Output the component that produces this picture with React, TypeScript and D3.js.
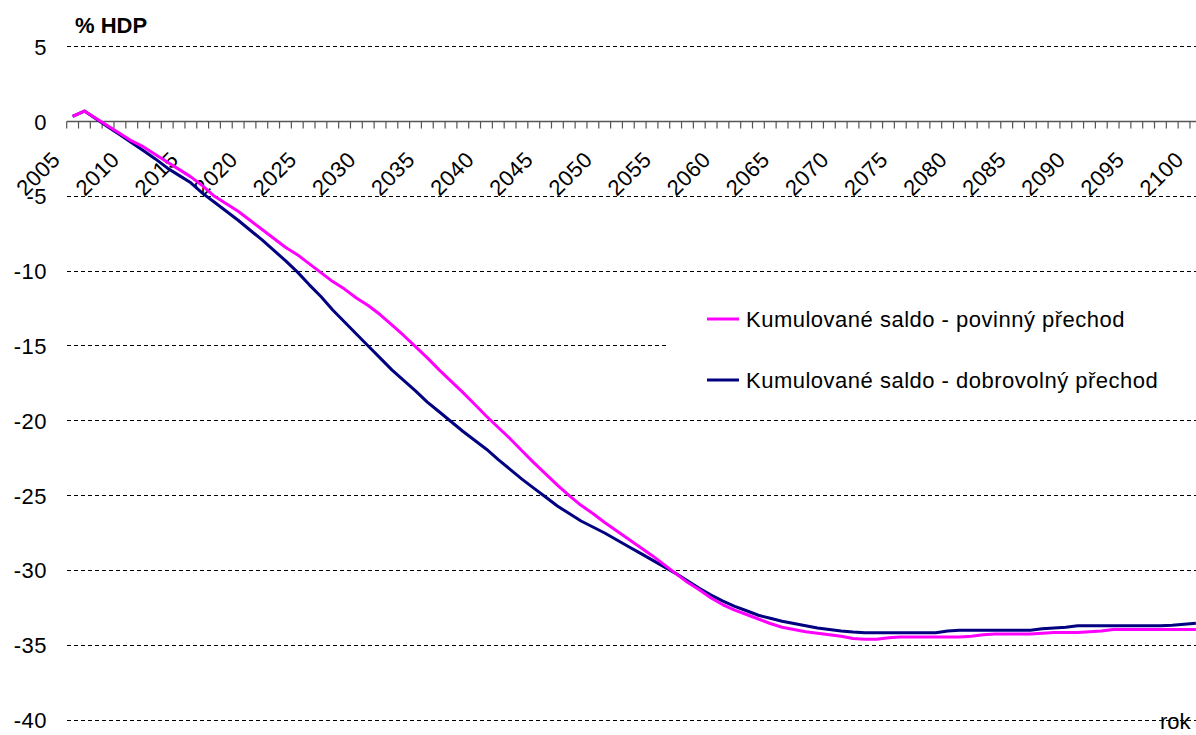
import React, { useEffect, useRef } from "react";
import * as d3 from "d3";

// years on the category axis
const years: number[] = d3.range(2005, 2101);

// Kumulované saldo - povinný přechod (% HDP), starts 2005
const povinny: number[] = [
  0.35, 0.7, 0.2, -0.3, -0.8, -1.3, -1.7, -2.2, -2.7, -3.2,
  -3.7, -4.3, -5.0, -5.5, -6.0, -6.6, -7.2, -7.8, -8.4, -8.9,
  -9.5, -10.1, -10.7, -11.2, -11.8, -12.3, -12.9, -13.6, -14.3, -15.05,
  -15.8, -16.6, -17.35, -18.1, -18.9, -19.7, -20.45, -21.2, -22.0, -22.8,
  -23.55, -24.3, -25.0, -25.65, -26.2, -26.8, -27.35, -27.9, -28.45, -29.0,
  -29.6, -30.2, -30.8, -31.3, -31.85, -32.3, -32.65, -32.95, -33.25, -33.55,
  -33.8, -33.95, -34.1, -34.2, -34.3, -34.4, -34.55, -34.6, -34.6, -34.5,
  -34.45, -34.45, -34.45, -34.45, -34.45, -34.45, -34.4, -34.3, -34.25, -34.25,
  -34.25, -34.25, -34.2, -34.15, -34.15, -34.15, -34.1, -34.05, -33.95, -33.95,
  -33.95, -33.95, -33.95, -33.95, -33.95, -33.95,
];

// Kumulované saldo - dobrovolný přechod (% HDP)
const dobrovolny: number[] = [
  0.35, 0.7, 0.17, -0.36, -0.89, -1.42, -1.95, -2.5, -3.1, -3.6,
  -4.1, -4.8, -5.4, -6.0, -6.6, -7.25, -7.9, -8.6, -9.3, -10.05,
  -10.9, -11.7, -12.6, -13.4, -14.2, -15.0, -15.8, -16.6, -17.3, -18.0,
  -18.75, -19.4, -20.05, -20.7, -21.3, -21.9, -22.6, -23.25, -23.9, -24.5,
  -25.1, -25.7, -26.2, -26.7, -27.1, -27.5, -27.95, -28.4, -28.85, -29.3,
  -29.75, -30.2, -30.7, -31.2, -31.65, -32.05, -32.4, -32.7, -33.0, -33.2,
  -33.4, -33.55, -33.7, -33.85, -33.95, -34.05, -34.12, -34.17, -34.17, -34.17,
  -34.17, -34.17, -34.17, -34.17, -34.05, -34.0, -34.0, -34.0, -34.0, -34.0,
  -34.0, -34.0, -33.9, -33.85, -33.8, -33.7, -33.7, -33.7, -33.7, -33.7,
  -33.7, -33.7, -33.7, -33.66, -33.6, -33.54,
];

const yTicks: number[] = [5, 0, -5, -10, -15, -20, -25, -30, -35, -40];
const xLabelYears: number[] = d3.range(2005, 2101, 5);

const seriesNames = [
  "Kumulované saldo - povinný přechod",
  "Kumulované saldo - dobrovolný přechod",
];
const seriesColors = ["#ff00ff", "#000080"];

const App = () => {
  const chartRef = useRef<SVGSVGElement>(null);

  useEffect(() => {
    const svg = d3.select(chartRef.current);
    svg.selectAll("*").remove();

    const font = "'Liberation Sans', Arial, sans-serif";
    const fs = "22px";
    const ls = "0.5px";
    const left = 66.7;
    const bandW = 11.824;

    // Scales
    const xScale = d3
      .scaleBand<number>()
      .domain(years)
      .range([left, left + years.length * bandW])
      .paddingInner(0)
      .paddingOuter(0);

    const yScale = d3.scaleLinear().domain([-40, 5]).range([720, 46.7]);
    const cx = (yr: number) => (xScale(yr) as number) + xScale.bandwidth() / 2;

    // Gridlines (dashed)
    svg
      .append("g")
      .selectAll("line")
      .data(yTicks.filter((d) => d !== 0))
      .enter()
      .append("line")
      .attr("x1", left)
      .attr("x2", 1196)
      .attr("y1", (d) => yScale(d))
      .attr("y2", (d) => yScale(d))
      .attr("stroke", "#000")
      .attr("stroke-width", 1)
      .attr("stroke-dasharray", "4,3")
      .attr("shape-rendering", "crispEdges");

    // Y labels
    svg
      .append("g")
      .selectAll("text")
      .data(yTicks)
      .enter()
      .append("text")
      .attr("x", 47)
      .attr("y", (d) => yScale(d) + 8)
      .attr("text-anchor", "end")
      .style("font-family", font)
      .style("font-size", fs)
      .style("letter-spacing", ls)
      .text((d) => d);

    // X axis at 0
    const y0 = yScale(0);
    svg
      .append("line")
      .attr("x1", left)
      .attr("x2", 1202)
      .attr("y1", y0)
      .attr("y2", y0)
      .attr("stroke", "#555")
      .attr("stroke-width", 1.5);

    svg
      .append("g")
      .selectAll("line")
      .data(d3.range(0, years.length + 1))
      .enter()
      .append("line")
      .attr("x1", (i) => left + i * bandW)
      .attr("x2", (i) => left + i * bandW)
      .attr("y1", y0)
      .attr("y2", y0 + 7)
      .attr("stroke", "#555")
      .attr("stroke-width", 1.2);

    // X labels (rotated)
    svg
      .append("g")
      .selectAll("text")
      .data(xLabelYears)
      .enter()
      .append("text")
      .attr("text-anchor", "end")
      .attr("transform", (d) => `translate(${cx(d) - 11},${161}) rotate(-45)`)
      .style("font-family", font)
      .style("font-size", fs)
      .style("letter-spacing", ls)
      .text((d) => d);

    // Legend box (white, hides part of the grid)
    svg
      .append("rect")
      .attr("x", 668)
      .attr("y", 285)
      .attr("width", 540)
      .attr("height", 120)
      .attr("fill", "#fff");

    // Lines
    const line = d3
      .line<number>()
      .x((_, i) => cx(years[i]))
      .y((d) => yScale(d));

    [dobrovolny, povinny].forEach((vals, k) => {
      svg
        .append("path")
        .datum(vals)
        .attr("fill", "none")
        .attr("stroke", k === 0 ? seriesColors[1] : seriesColors[0])
        .attr("stroke-width", 3)
        .attr("stroke-linejoin", "round")
        .attr("d", line);
    });

    // Legend
    const legendY = [319, 380];
    seriesNames.forEach((name, i) => {
      svg
        .append("line")
        .attr("x1", 707)
        .attr("x2", 739)
        .attr("y1", legendY[i])
        .attr("y2", legendY[i])
        .attr("stroke", seriesColors[i])
        .attr("stroke-width", 3);
      svg
        .append("text")
        .attr("x", 746)
        .attr("y", legendY[i] + 8)
        .style("font-family", font)
        .style("font-size", fs)
        .style("letter-spacing", ls)
        .text(name);
    });

    // Axis titles
    svg
      .append("text")
      .attr("x", 75)
      .attr("y", 33)
      .style("font-family", font)
      .style("font-size", fs)
      .style("font-weight", "bold")
      .text("% HDP");

    svg
      .append("text")
      .attr("x", 1160)
      .attr("y", 729)
      .style("font-family", font)
      .style("font-size", fs)
      .text("rok");
  }, []);

  return (
    <svg
      ref={chartRef}
      width={1196}
      height={735}
      style={{ position: "absolute", left: 0, top: 0, background: "#fff" }}
    />
  );
};

export default App;
